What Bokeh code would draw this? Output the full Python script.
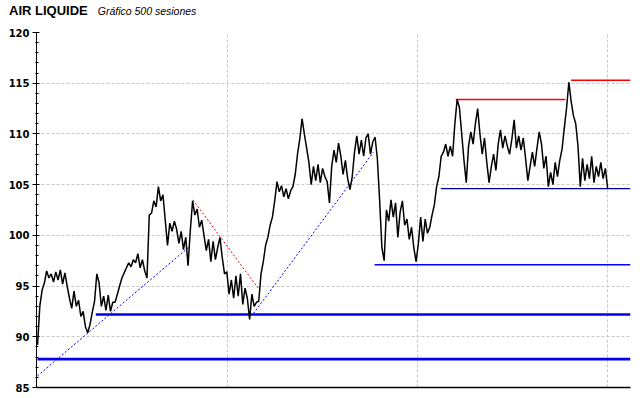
from bokeh.plotting import figure
from bokeh.layouts import column
from bokeh.models import Range1d, FixedTicker, SingleIntervalTicker, Div
from bokeh.embed import file_html
from bokeh.resources import INLINE

title_main = "AIR LIQUIDE"
title_sub = "Gráfico 500 sesiones"

price = [
    89.2, 93.0, 94.6, 95.3,
    96.5, 95.8,
    96.2, 95.4, 96.4, 95.6, 96.6, 95.2, 96.3,
    95.0, 93.8,
    92.8,
    94.5, 93.0,
    93.6, 92.0,
    92.5, 91.0, 90.4,
    91.2, 92.4, 93.5,
    96.2, 95.3,
    93.0, 94.0,
    92.6, 94.1, 92.5, 93.4,
    93.4, 94.2, 95.0, 95.8,
    96.3, 96.8, 97.3, 96.9, 97.6, 97.3,
    98.2, 96.8, 97.6, 96.5,
    95.8,
    102.0,
    102.2, 103.4, 102.8, 104.8,
    103.4, 104.0, 101.5,
    99.0, 101.2,
    100.4, 101.4, 100.6,
    99.2, 100.4, 98.6, 99.8,
    97.0,
    100.5, 103.4,
    102.0, 102.6, 100.8, 101.5,
    100.0, 98.5, 99.6, 97.4,
    99.4, 97.6, 98.8, 99.8,
    97.8, 96.2,
    96.4, 94.2, 95.6,
    93.8, 96.0,
    94.0, 96.2, 93.2, 94.8,
    93.8, 91.7,
    94.2, 93.0, 93.4,
    93.5,
    96.2,
    97.4, 99.0,
    99.8, 101.0,
    101.8, 103.4,
    105.3,
    104.3, 104.9, 103.8, 104.6, 103.6, 104.4,
    104.8,
    106.0, 108.0,
    109.5, 111.5,
    110.0, 108.6, 107.2,
    105.0, 106.8,
    105.4, 107.0, 105.2, 106.6, 105.8,
    105.3, 103.2,
    106.8, 108.4, 107.2, 109.1,
    107.8, 106.0, 107.4, 105.6,
    104.5, 105.8,
    108.2, 109.8,
    108.0, 109.4, 107.8, 109.6, 110.0,
    108.0, 109.2,
    109.7, 107.6,
    103.5,
    98.8, 97.5,
    102.5, 101.4,
    103.5, 101.8, 103.2,
    99.8, 102.3,
    103.4, 101.0,
    101.6, 99.6, 100.8,
    98.8, 97.4, 99.2,
    101.8, 99.4, 101.6, 100.2,
    100.8, 102.0, 103.0, 104.8,
    105.8, 107.8,
    108.2, 109.0, 107.8, 108.8, 107.8,
    111.0, 113.4, 112.6,
    110.0,
    107.4, 105.2,
    108.8, 110.2, 109.0, 111.0, 112.5,
    110.0, 108.0, 109.6, 107.2,
    105.2, 106.8,
    108.0, 106.4,
    109.0, 110.4, 108.6, 109.8, 108.8,
    108.0, 109.5,
    111.4,
    108.6, 109.8, 108.4, 109.6,
    107.6, 105.4,
    106.8, 108.2, 106.8, 108.6,
    110.2, 109.0,
    106.6, 107.8,
    104.8, 106.2, 105.0,
    107.2, 105.8, 107.4,
    108.5, 110.6,
    112.6,
    115.1,
    113.2, 111.8,
    111.0, 108.8,
    104.8,
    107.6, 105.4, 107.0, 105.6, 107.8, 105.2, 106.8, 105.8, 107.2, 105.6,
    106.6, 104.6,
]
n_sessions = 500
step = (n_sessions - 1) / (len(price) - 1)
sessions = [i * step for i in range(len(price))]

# horizontal support / resistance levels
lvl_start = [0, 51, 295, 353, 366, 467]
lvl_end = [519, 519, 519, 519, 462, 519]
lvl_value = [87.8, 92.2, 97.1, 104.6, 113.4, 115.3]
lvl_color = ["#0000ee", "#0000ee", "#0000ff", "#000099", "#ff0000", "#ff0000"]
lvl_width = [2.6, 2.6, 1.4, 1.3, 1.5, 1.5]

# dotted trend lines
tr_x0 = [0, 136, 189]
tr_y0 = [86.15, 103.5, 92.3]
tr_x1 = [132, 193, 294]
tr_y1 = [98.8, 94.8, 108.2]
tr_color = ["#0000ff", "#ff0000", "#0000ff"]

grid_sessions = [166, 333, 499]

# ---- header with the two titles ----
head = Div(
    text=('<span style="font-family:\'Liberation Sans\';font-weight:bold;'
          'font-size:13px;color:#000">' + title_main + '</span>'
          '<span style="font-family:\'Liberation Sans\';font-style:italic;'
          'font-size:10.5px;color:#000;margin-left:10px">' + title_sub + '</span>'),
    width=632, height=24,
    styles={"padding-left": "9px", "padding-top": "3px", "line-height": "16px",
            "white-space": "nowrap", "margin": "0"},
)

# ---- main chart ----
p = figure(width=632, height=372, output_backend="svg", toolbar_location=None,
           x_range=Range1d(-0.9, 519), y_range=Range1d(85, 120),
           min_border_left=36, min_border_top=8, min_border_right=2, min_border_bottom=9,
           background_fill_color="white", border_fill_color="white",
           outline_line_color=None)

p.yaxis.ticker = SingleIntervalTicker(interval=5, num_minor_ticks=5)
p.yaxis.major_label_text_font = "DejaVu Sans"
p.yaxis.major_label_text_font_style = "bold"
p.yaxis.major_label_text_font_size = "10px"
p.yaxis.major_label_text_color = "#000000"
p.yaxis.major_label_standoff = 3
p.yaxis.major_tick_out = 4
p.yaxis.major_tick_in = 3
p.yaxis.minor_tick_out = 1
p.yaxis.minor_tick_in = 2
p.yaxis.axis_line_color = "#000000"
p.yaxis.major_tick_line_color = "#000000"
p.yaxis.minor_tick_line_color = "#000000"

p.xaxis.ticker = FixedTicker(ticks=[])
p.xaxis.major_tick_line_color = None
p.xaxis.minor_tick_line_color = None
p.xaxis.axis_line_color = "#000000"
p.xaxis.axis_line_width = 1.5
p.xgrid.ticker = FixedTicker(ticks=grid_sessions)

for g in (p.xgrid, p.ygrid):
    g.grid_line_color = "#c8c8c8"
    g.grid_line_dash = "3 2"
    g.grid_line_width = 1

p.segment(x0=lvl_start, y0=lvl_value, x1=lvl_end, y1=lvl_value,
          line_color=lvl_color, line_width=lvl_width)
p.segment(x0=tr_x0, y0=tr_y0, x1=tr_x1, y1=tr_y1, line_color=tr_color,
          line_width=1, line_dash="2 2")
p.line(sessions, price, line_color="#000000", line_width=1.5)

layout = column(head, p, spacing=0)
open("out.html", "w").write(file_html(layout, INLINE))
